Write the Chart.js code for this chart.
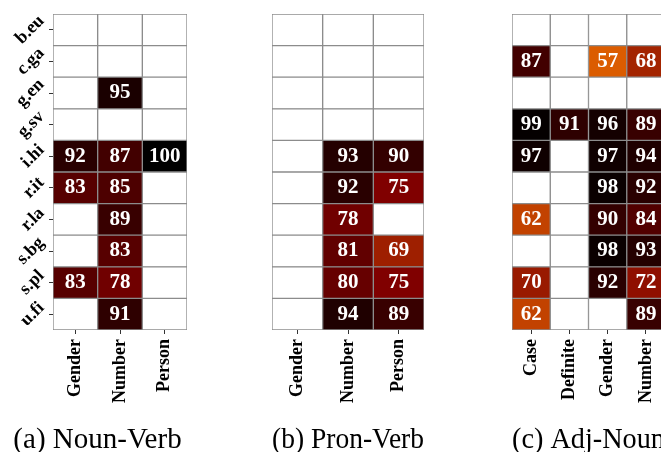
<!DOCTYPE html>
<html>
<head>
<meta charset="utf-8">
<script src="https://cdn.jsdelivr.net/npm/chart.js@4.4.0/dist/chart.umd.min.js"></script>
<style>
  html, body { margin: 0; padding: 0; background: #fff; overflow: hidden; }
  body { width: 661px; height: 452px; position: relative; }
  canvas { position: absolute; top: 0; }
</style>
</head>
<body>
<canvas id="nounVerb" width="179" height="458" style="left:8px"></canvas>
<canvas id="pronVerb" width="152" height="458" style="left:272px"></canvas>
<canvas id="adjNoun" width="153" height="458" style="left:512px"></canvas>
<script>
// treebanks (rows, top to bottom)
const rows = ['b.eu', 'c.ga', 'g.en', 'g.sv', 'i.hi', 'r.it', 'r.la', 's.bg', 's.pl', 'u.fi'];

// (a) Noun-Verb
const nounVerbCols = ['Gender', 'Number', 'Person'];
const nounVerbGender = [null, null, null, null, 92, 83, null, null, 83, null];
const nounVerbNumber = [null, null, 95, null, 87, 85, 89, 83, 78, 91];
const nounVerbPerson = [null, null, null, null, 100, null, null, null, null, null];

// (b) Pron-Verb
const pronVerbCols = ['Gender', 'Number', 'Person'];
const pronVerbGender = [null, null, null, null, null, null, null, null, null, null];
const pronVerbNumber = [null, null, null, null, 93, 92, 78, 81, 80, 94];
const pronVerbPerson = [null, null, null, null, 90, 75, null, 69, 75, 89];

// (c) Adj-Noun
const adjNounCols = ['Case', 'Definite', 'Gender', 'Number'];
const adjNounCase = [null, 87, null, 99, 97, null, 62, null, 70, 62];
const adjNounDefinite = [null, null, null, 91, null, null, null, null, null, null];
const adjNounGender = [null, 57, null, 96, 97, 98, 90, 98, 92, null];
const adjNounNumber = [null, 68, null, 89, 94, 92, 84, 93, 72, 89];

const captions = ['(a) Noun-Verb', '(b) Pron-Verb', '(c) Adj-Noun'];

const SERIF = '"Liberation Serif", "Times New Roman", serif';
const CANVAS_H = 458;
const GRID_TOP = 14;
const GRID_BOTTOM = 330;
const CAPTION_SIZE = 29;

// reversed afmhot colormap on 0..100, empty cells stay white
function heat(v) {
  if (v == null) return '#ffffff';
  const t = 1 - v / 100;
  const c = x => Math.round(255 * Math.min(1, Math.max(0, x)));
  return 'rgb(' + c(2 * t) + ',' + c(2 * t - 0.5) + ',' + c(2 * t - 1) + ')';
}

// numbers inside the cells
const cellValues = {
  id: 'cellValues',
  afterDatasetsDraw(chart) {
    const ctx = chart.ctx;
    ctx.save();
    ctx.font = 'bold 21px ' + SERIF;
    ctx.fillStyle = '#ffffff';
    ctx.textAlign = 'center';
    ctx.textBaseline = 'middle';
    chart.data.datasets.forEach((ds, di) => {
      chart.getDatasetMeta(di).data.forEach((bar, i) => {
        const v = ds.values[i];
        if (v == null) return;
        const p = bar.getCenterPoint();
        ctx.fillText(String(v), p.x, p.y);
      });
    });
    ctx.restore();
  }
};

// slanted row names on the left
const rowLabels = {
  id: 'rowLabels',
  afterDraw(chart) {
    const ctx = chart.ctx;
    const y = chart.scales.y;
    const size = 18;
    const h = size * 0.7;
    ctx.save();
    ctx.font = 'bold ' + size + 'px ' + SERIF;
    ctx.fillStyle = '#000';
    ctx.textAlign = 'right';
    ctx.textBaseline = 'middle';
    rows.forEach((r, i) => {
      const yc = y.getPixelForValue(i);
      const w = ctx.measureText(r).width;
      const x0 = chart.chartArea.left - 7;
      ctx.save();
      ctx.translate(x0 - 0.354 * h, yc - 0.354 * w);
      ctx.rotate(-Math.PI / 4);
      ctx.fillText(r, 0, 0);
      ctx.restore();
    });
    ctx.restore();
  }
};

function heatmap(id, cols, series, caption, yw) {
  const datasets = series.map((vals, c) => ({
    label: cols[c],
    data: vals.map(() => [c, c + 1]),
    values: vals,
    backgroundColor: vals.map(heat),
    borderColor: '#8c8c8c',
    borderWidth: 1,
    borderSkipped: false,
    barPercentage: 1,
    categoryPercentage: 1,
    grouped: false
  }));
  const showRows = yw > 0;

  return new Chart(document.getElementById(id), {
    type: 'bar',
    data: { labels: rows, datasets: datasets },
    plugins: showRows ? [cellValues, rowLabels] : [cellValues],
    options: {
      indexAxis: 'y',
      responsive: false,
      animation: false,
      layout: { padding: { left: 0, right: 0, top: GRID_TOP, bottom: 0 } },
      plugins: {
        legend: { display: false },
        tooltip: { enabled: false },
        title: {
          display: true,
          text: caption,
          position: 'bottom',
          color: '#000',
          font: { family: SERIF, size: CAPTION_SIZE, weight: 'normal' },
          padding: { top: 0, bottom: 0 }
        }
      },
      scales: {
        x: {
          type: 'linear',
          position: 'bottom',
          min: 0,
          max: cols.length,
          afterBuildTicks: (scale) => {
            scale.ticks = cols.map((_, i) => ({ value: i + 0.5 }));
          },
          afterFit: (scale) => {
            scale.height = CANVAS_H - GRID_BOTTOM - CAPTION_SIZE * 1.2;
            scale.paddingLeft = 0;
            scale.paddingRight = 0;
          },
          ticks: {
            callback: (v, i) => cols[i],
            minRotation: 90,
            maxRotation: 90,
            autoSkip: false,
            padding: 5,
            color: '#000',
            font: { family: SERIF, size: 18, weight: 'bold' }
          },
          grid: { drawOnChartArea: false, drawTicks: true, tickLength: 4, color: '#333' },
          border: { display: false }
        },
        y: {
          type: 'category',
          display: showRows,
          offset: true,
          afterFit: (scale) => {
            scale.width = yw;
            scale.paddingTop = 0;
            scale.paddingBottom = 0;
          },
          ticks: { display: false },
          grid: { offset: false, drawOnChartArea: false, drawTicks: true, tickLength: 4, color: '#333' },
          border: { display: false }
        }
      }
    }
  });
}

heatmap('nounVerb', nounVerbCols, [nounVerbGender, nounVerbNumber, nounVerbPerson], captions[0], 45);
heatmap('pronVerb', pronVerbCols, [pronVerbGender, pronVerbNumber, pronVerbPerson], captions[1], 0);
heatmap('adjNoun', adjNounCols, [adjNounCase, adjNounDefinite, adjNounGender, adjNounNumber], captions[2], 0);
</script>
</body>
</html>
